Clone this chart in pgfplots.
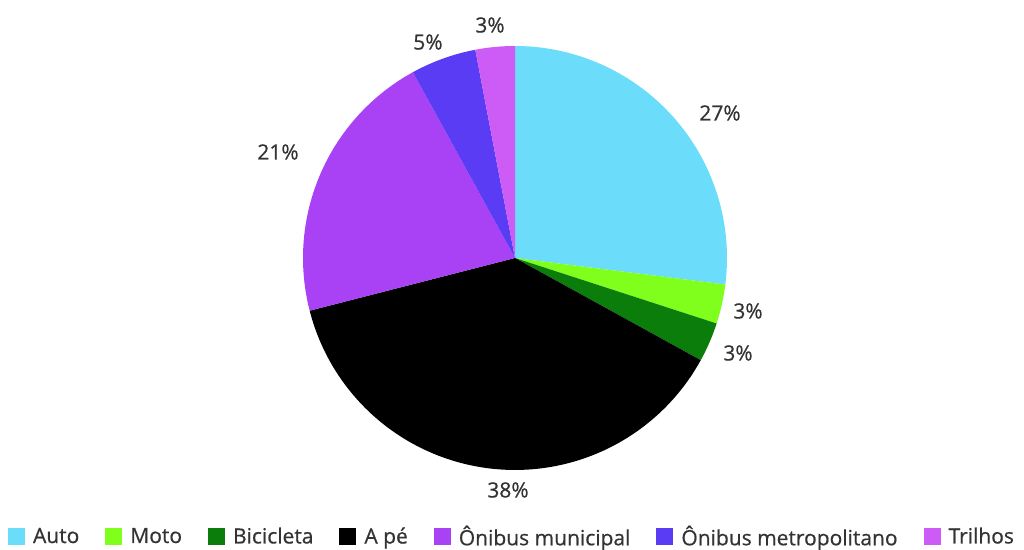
\documentclass[border=0pt]{standalone}
\usepackage{fontspec}
\setmainfont{Open Sans}[FakeBold=0.6]
\usepackage{pgfplots}
\pgfplotsset{compat=1.18}
\definecolor{cAuto}{HTML}{6BDDFB}
\definecolor{cMoto}{HTML}{80FF1C}
\definecolor{cBici}{HTML}{0A7D0A}
\definecolor{cApe}{HTML}{000000}
\definecolor{cMun}{HTML}{A941F5}
\definecolor{cMet}{HTML}{5A3CF5}
\definecolor{cTri}{HTML}{CC5CF5}
\definecolor{txt}{HTML}{333333}
\begin{document}
\begin{tikzpicture}
\begin{axis}[
  width=1024pt, height=550pt, scale only axis,
  xmin=-515, xmax=509, ymin=-292, ymax=258,
  hide axis, clip=false,
  legend columns=7,
  legend style={at={(0.5,0.0)}, anchor=south, draw=none, fill=none,
    font=\fontsize{21}{24}\selectfont\color{txt}, inner sep=1pt,
    /tikz/every odd column/.append style={column sep=6pt},
    /tikz/every even column/.append style={column sep=24pt}},
  legend image code/.code={\fill[#1] (0pt,-8.5pt) rectangle (17pt,8.5pt);},
]
\path (axis cs:-515,-292) rectangle (axis cs:509,258);
% percentages: Auto 27, Moto 3, Bicicleta 3, A pe 38, Onibus municipal 21, Onibus metropolitano 5, Trilhos 3
\addplot[fill=cAuto, draw=none, domain=-7.2:90, samples=80, variable=\t] ({212*cos(\t)},{212*sin(\t)}) -- (axis cs:0,0) -- cycle;
\addlegendentry{Auto}
\addplot[fill=cMoto, draw=none, domain=-18:-7.2, samples=20, variable=\t] ({212*cos(\t)},{212*sin(\t)}) -- (axis cs:0,0) -- cycle;
\addlegendentry{Moto}
\addplot[fill=cBici, draw=none, domain=-28.8:-18, samples=20, variable=\t] ({212*cos(\t)},{212*sin(\t)}) -- (axis cs:0,0) -- cycle;
\addlegendentry{Bicicleta}
\addplot[fill=cApe, draw=none, domain=-165.6:-28.8, samples=100, variable=\t] ({212*cos(\t)},{212*sin(\t)}) -- (axis cs:0,0) -- cycle;
\addlegendentry{A pé}
\addplot[fill=cMun, draw=none, domain=-241.2:-165.6, samples=60, variable=\t] ({212*cos(\t)},{212*sin(\t)}) -- (axis cs:0,0) -- cycle;
\addlegendentry{Ônibus municipal}
\addplot[fill=cMet, draw=none, domain=-259.2:-241.2, samples=20, variable=\t] ({212*cos(\t)},{212*sin(\t)}) -- (axis cs:0,0) -- cycle;
\addlegendentry{Ônibus metropolitano}
\addplot[fill=cTri, draw=none, domain=-270:-259.2, samples=20, variable=\t] ({212*cos(\t)},{212*sin(\t)}) -- (axis cs:0,0) -- cycle;
\addlegendentry{Trilhos}
\begin{scope}[every node/.style={font=\fontsize{21}{24}\selectfont, text=txt}]
\node at (axis cs:205,145) {27\%};
\node at (axis cs:233,-53) {3\%};
\node at (axis cs:223,-95) {3\%};
\node at (axis cs:-7,-232) {38\%};
\node at (axis cs:-237,106) {21\%};
\node at (axis cs:-87,216) {5\%};
\node at (axis cs:-25,233) {3\%};
\end{scope}
\end{axis}
\end{tikzpicture}
\end{document}
